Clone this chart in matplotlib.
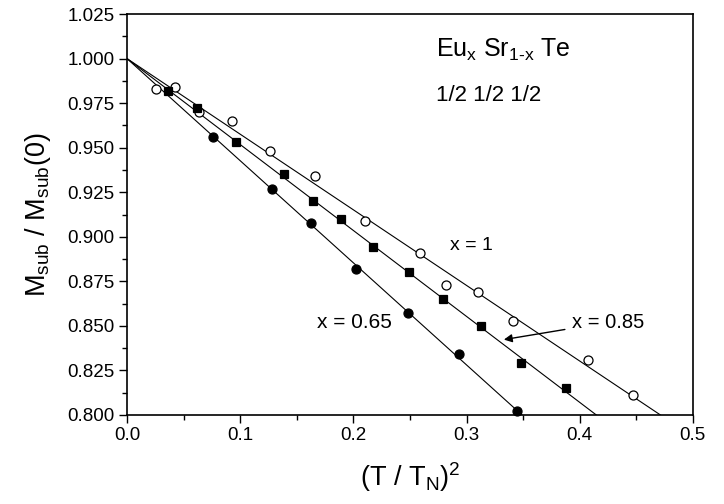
import numpy as np
import matplotlib.pyplot as plt
from matplotlib.ticker import MultipleLocator

plt.rcParams['font.family'] = ['Liberation Sans', 'DejaVu Sans']
plt.rcParams['mathtext.fontset'] = 'custom'
plt.rcParams['mathtext.rm'] = 'Liberation Sans'
plt.rcParams['mathtext.it'] = 'Liberation Sans'

# x = 1 (open circles)
t_x1 = [0.026, 0.042, 0.064, 0.093, 0.126, 0.166, 0.210, 0.259, 0.282, 0.310, 0.341, 0.407, 0.447]
m_x1 = [0.983, 0.984, 0.970, 0.965, 0.948, 0.934, 0.909, 0.891, 0.873, 0.869, 0.853, 0.831, 0.811]

# x = 0.85 (filled squares)
t_x085 = [0.036, 0.062, 0.096, 0.139, 0.164, 0.189, 0.217, 0.249, 0.279, 0.313, 0.348, 0.388]
m_x085 = [0.982, 0.972, 0.953, 0.935, 0.920, 0.910, 0.894, 0.880, 0.865, 0.850, 0.829, 0.815]

# x = 0.65 (filled circles)
t_x065 = [0.076, 0.128, 0.163, 0.202, 0.248, 0.293, 0.345]
m_x065 = [0.956, 0.927, 0.908, 0.882, 0.857, 0.834, 0.802]


def fit_through_one(x, y):
    # least squares line forced through (0, 1)
    x = np.asarray(x)
    y = np.asarray(y)
    return (x * (y - 1)).sum() / (x * x).sum()


fig = plt.figure(figsize=(7.24, 5.04), dpi=100)
ax = fig.add_axes([0.1754, 0.1766, 0.7816, 0.7956])

for t, m, mk, fc in [(t_x1, m_x1, 'o', 'white'),
                     (t_x085, m_x085, 's', 'black'),
                     (t_x065, m_x065, 'o', 'black')]:
    slope = fit_through_one(t, m)
    xx = np.array([0.0, 0.5])
    ax.plot(xx, 1 + slope * xx, color='black', lw=0.8, zorder=2)
    ax.plot(t, m, linestyle='None', marker=mk, mfc=fc, mec='black',
            ms=6.5 if mk == 'o' else 6.2, mew=0.9, zorder=3, clip_on=False)

ax.set_xlim(0, 0.5)
ax.set_ylim(0.8, 1.025)
ax.xaxis.set_major_locator(MultipleLocator(0.1))
ax.xaxis.set_minor_locator(MultipleLocator(0.05))
ax.yaxis.set_major_locator(MultipleLocator(0.025))
ax.yaxis.set_minor_locator(MultipleLocator(0.0125))
ax.xaxis.set_major_formatter(plt.FormatStrFormatter('%.1f'))
ax.yaxis.set_major_formatter(plt.FormatStrFormatter('%.3f'))
ax.tick_params(which='major', direction='out', length=6, width=1, labelsize=13.5, pad=3)
ax.tick_params(which='minor', direction='out', length=3.5, width=1)
ax.tick_params(top=False, right=False)
for s in ax.spines.values():
    s.set_linewidth(1.2)

ax.set_xlabel(r'(T / T$_\mathrm{N}$)$^2$', fontsize=19.5, labelpad=11)
ax.set_ylabel(r'M$_\mathrm{sub}$ / M$_\mathrm{sub}$(0)', fontsize=19.5, labelpad=10)

ax.text(0.273, 1.001, r'Eu$_\mathrm{x}$ Sr$_\mathrm{1\text{-}x}$ Te', fontsize=18)
ax.text(0.273, 0.976, '1/2 1/2 1/2', fontsize=16)
ax.text(0.285, 0.8927, 'x = 1', fontsize=14)
ax.text(0.168, 0.849, 'x = 0.65', fontsize=15)
ax.annotate('x = 0.85', xy=(0.333, 0.8423), xytext=(0.393, 0.852), fontsize=14.5,
            va='center',
            arrowprops=dict(arrowstyle='-|>', color='black', lw=1, mutation_scale=12,
                            shrinkA=3, shrinkB=0))

fig.savefig('out.png', dpi=100)
